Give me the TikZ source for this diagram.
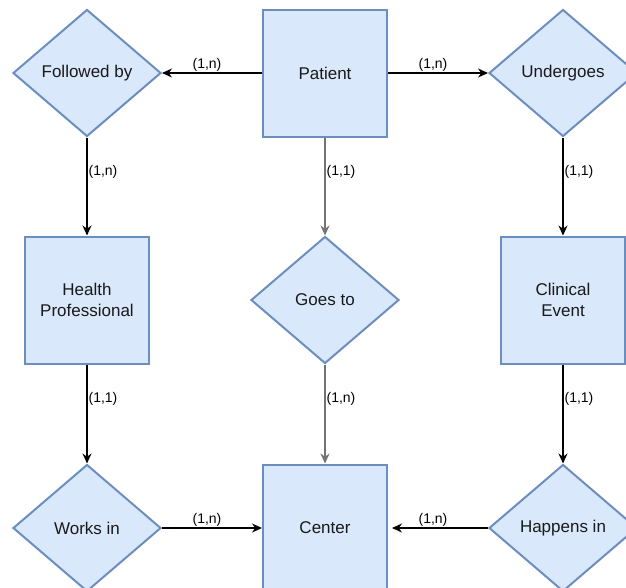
\documentclass[tikz,border=0pt]{standalone}
\usepackage{fontspec}
\setmainfont{Liberation Sans}
\usetikzlibrary{shapes.geometric,arrows.meta}

\definecolor{erfill}{HTML}{DAE8FC}
\definecolor{erline}{HTML}{6C8EBF}

\tikzset{
entity/.style={draw=erline,fill=erfill,line width=2pt,rectangle,minimum width=124pt,minimum height=127pt,inner sep=0pt,font=\fontsize{17}{21}\selectfont,align=center,text=black!90},
relation/.style={draw=erline,fill=erfill,line width=2pt,diamond,minimum width=148pt,minimum height=127pt,inner sep=0pt,font=\fontsize{17}{21}\selectfont,text=black!90},
link/.style={-{Stealth[length=10pt,width=9pt]},line width=1.2pt},
card/.style={font=\fontsize{14}{16}\selectfont,inner sep=1pt}
}

\begin{document}
\begin{tikzpicture}[x=1pt,y=-1pt]
\useasboundingbox (0,0) rectangle (626,587);
\node[relation] (followed) at (87,73) {Followed by};
\node[entity] (patient) at (325,73) {Patient};
\node[relation] (undergoes) at (563,73) {Undergoes};
\node[entity] (healthpro) at (87,300) {Health\\Professional};
\node[relation] (goesto) at (325,300) {Goes to};
\node[entity] (clinical) at (563,300) {Clinical\\Event};
\node[relation] (worksin) at (87,528) {Works in};
\node[entity] (center) at (325,528) {Center};
\node[relation] (happens) at (563,528) {Happens in};

\draw[link] (patient) to node[card,above,pos=0.55] {(1,n)} (followed);
\draw[link] (patient) to node[card,above,pos=0.45] {(1,n)} (undergoes);
\draw[link] (followed) to node[card,right,pos=0.35] {(1,n)} (healthpro);
\draw[link,draw=black!55] (patient) to node[card,right,pos=0.35] {(1,1)} (goesto);
\draw[link] (undergoes) to node[card,right,pos=0.35] {(1,1)} (clinical);
\draw[link] (healthpro) to node[card,right,pos=0.35] {(1,1)} (worksin);
\draw[link,draw=black!55] (goesto) to node[card,right,pos=0.35] {(1,n)} (center);
\draw[link] (clinical) to node[card,right,pos=0.35] {(1,1)} (happens);
\draw[link] (worksin) to node[card,above,pos=0.45] {(1,n)} (center);
\draw[link,shorten >=4pt] (happens) to node[card,above,pos=0.55] {(1,n)} (center);
\end{tikzpicture}
\end{document}
